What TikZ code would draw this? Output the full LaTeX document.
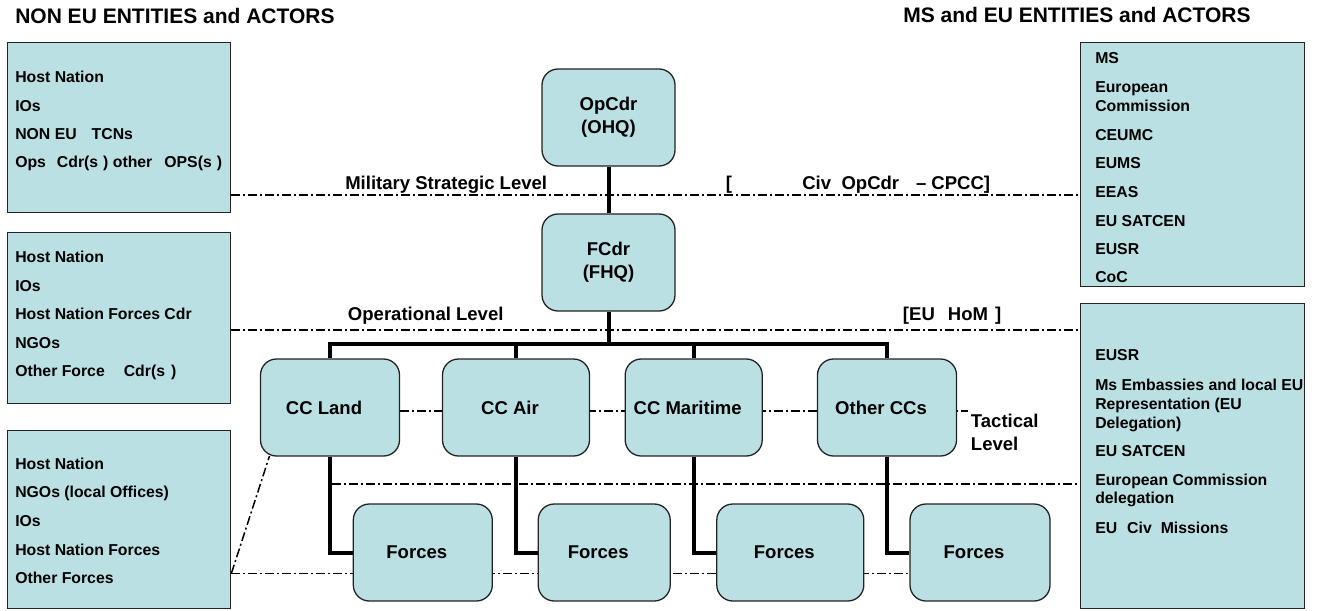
\documentclass[tikz,border=0pt]{standalone}
\usepackage{fontspec}
\setmainfont{Liberation Sans}
\usetikzlibrary{backgrounds,calc}
\newlength\px \setlength\px{0.75pt}
\definecolor{boxfill}{RGB}{186,224,227}
\definecolor{boxline}{RGB}{35,35,35}
\begin{document}
\begin{tikzpicture}[x=0.75pt,y=-0.75pt,
  side/.style={draw=boxline, line width=1.4\px, fill=boxfill, rectangle, anchor=north west, inner sep=0pt},
  rbox/.style={draw=boxline, line width=1.3\px, fill=boxfill, rounded corners=16\px, align=center, inner sep=0pt, font=\bfseries\fontsize{13.9pt}{17pt}\selectfont},
  hq/.style={rbox, minimum width=133\px, minimum height=97\px},
  cc/.style={rbox, minimum height=97\px, execute at end node={\hspace*{12\px}}},
  item/.style={anchor=base west, inner sep=0pt, font=\bfseries\fontsize{11.85pt}{14.25pt}\selectfont},
  lvl/.style={anchor=base west, inner sep=0pt, align=left, font=\bfseries\fontsize{13.9pt}{16.9pt}\selectfont},
  ttl/.style={anchor=base west, inner sep=0pt, font=\bfseries\fontsize{15.75pt}{19pt}\selectfont},
  conn/.style={line width=4\px, black},
  dd/.style={line width=1.5\px, black, dash pattern=on 9\px off 3\px on 2\px off 3\px},
]
\useasboundingbox (0,0) rectangle (1319,610);

% titles
\node[ttl] (t1) at (15,23.3) {NON EU ENTITIES and ACTORS};
\node[ttl] (t2) at (903,22.7) {MS and EU ENTITIES and ACTORS};

% side boxes
\node[side, minimum width=223\px, minimum height=170\px] (L1) at (7,42) {};
\node[side, minimum width=223\px, minimum height=171\px] (L2) at (7,232) {};
\node[side, minimum width=223\px, minimum height=178\px] (L3) at (7,430) {};
\node[side, minimum width=224\px, minimum height=244\px] (R1) at (1080,42) {};
\node[side, minimum width=224\px, minimum height=305\px] (R2) at (1080,303) {};

% side box texts
\foreach \y/\t [count=\i] in {82.3/Host Nation, 111/IOs, 139.3/NON EU\hspace{15\px}TCNs,
  167.7/Ops\hspace{11\px}Cdr(s\hspace{5\px}) other\hspace{12\px}OPS(s\hspace{5\px})}
  \node[item] (a\i) at (15,\y) {\t};
\foreach \y/\t [count=\i] in {262.7/Host Nation, 291/IOs, 319.3/Host Nation Forces Cdr,
  348/NGOs, 376.3/Other Force\hspace{19\px}Cdr(s\hspace{6\px})}
  \node[item] (b\i) at (15,\y) {\t};
\foreach \y/\t [count=\i] in {469.3/Host Nation, 497.3/NGOs (local Offices), 526/IOs,
  555/Host Nation Forces, 583.3/Other Forces}
  \node[item] (c\i) at (15,\y) {\t};
\foreach \y/\t [count=\i] in {64/MS, 92.7/European, 111.7/Commission, 140/CEUMC, 168.7/EUMS,
  197.7/EEAS, 226/EU SATCEN, 254.3/EUSR, 282.7/CoC}
  \node[item] (d\i) at (1095,\y) {\t};
\foreach \y/\t [count=\i] in {360.7/EUSR, 390/Ms Embassies and local EU, 409/Representation (EU,
  428/Delegation), 456.7/EU SATCEN, 485/European Commission, 503.3/delegation,
  533.3/EU\hspace{10\px}Civ\hspace{9\px}Missions}
  \node[item] (e\i) at (1095,\y) {\t};

% level labels
\node[lvl] (ms) at (345,189.3) {Military Strategic Level};
\node[lvl] (br) at (725.7,189.3) {[};
\node[lvl] (civ) at (802,189.3) {Civ\hspace{10.4\px}OpCdr\hspace{17\px}--\hspace{5\px}CPCC]};
\node[lvl] (opl) at (347.7,320) {Operational Level};
\node[lvl] (hom) at (902.7,320.5) {[EU\hspace{13\px}HoM\hspace{7\px}]};
\node[lvl] (tac) at (970.7,450) {Tactical\\Level};

% HQ boxes
\node[hq] (op) at (608.5,117.5) {OpCdr\\(OHQ)};
\node[hq] (fc) at (608.5,262.5) {FCdr\\(FHQ)};

% component commands
\node[cc, minimum width=139\px] (ccl) at (330,407.5) {CC Land};
\node[cc, minimum width=147\px] (cca) at (516,407.5) {CC Air};
\node[cc, minimum width=137\px] (ccm) at (693.7,407.5) {CC Maritime};
\node[cc, minimum width=139\px] (cco) at (887,407.5) {Other CCs};

% forces
\node[cc, minimum width=139\px] (f1) at (422.8,552.5) {Forces};
\node[cc, minimum width=132\px] (f2) at (604.2,552.5) {Forces};
\node[cc, minimum width=147\px] (f3) at (790.3,552.5) {Forces};
\node[cc, minimum width=140\px] (f4) at (980,552.5) {Forces};

% helper coordinates
\coordinate (yms) at (0,195);
\coordinate (yop) at (0,330);
\coordinate (ycc) at (0,411);
\coordinate (tacstart) at (331.7,484);
\coordinate (yfor) at (0,573.3);
\coordinate (bus) at (0,344);
\coordinate (ccend) at (967.7,411);
\coordinate (diagend) at (269.5,456);

\begin{pgfonlayer}{background}
  \draw[dd] (L1.east |- yms) -- (R1.west |- yms);
  \draw[dd] (L2.east |- yop) -- (R2.west |- yop);
  \draw[dd] (ccl.east |- ycc) -- (ccend);
  \draw[dd] (tacstart) -- (R2.west |- tacstart);
  \draw[dd] (L3.east |- yfor) -- (f4.west |- yfor);
  \draw[dd] (L3.east |- yfor) -- (diagend);
\end{pgfonlayer}

% tree connectors
\draw[conn] (op.south) -- (fc.north);
\draw[conn] (fc.south) -- (fc.south |- bus);
\draw[conn] (ccl.north) -- (ccl.north |- bus) -- (cco.north |- bus) -- (cco.north);
\draw[conn] (cca.north) -- (cca.north |- bus);
\draw[conn] (ccm.north) -- (ccm.north |- bus);
\draw[conn] (ccl.south) |- (f1.west);
\draw[conn] (cca.south) |- (f2.west);
\draw[conn] (ccm.south) |- (f3.west);
\draw[conn] (cco.south) |- (f4.west);
\end{tikzpicture}
\end{document}
